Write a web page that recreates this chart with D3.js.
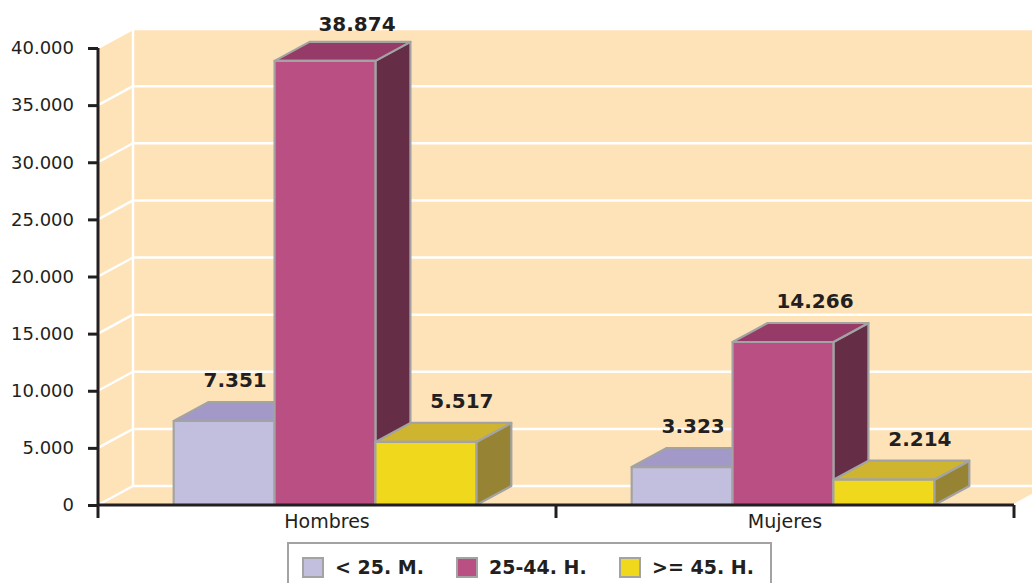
<!DOCTYPE html>
<meta charset="utf-8">
<script src="https://d3js.org/d3.v7.min.js"></script>
<style>
  body { margin: 0; background: #fff; }
  text { font-family: "DejaVu Sans", Verdana, sans-serif; fill: #231f20; }
</style>
<div id="my_dataviz"></div>
<script>

// data
var categories = ["Hombres", "Mujeres"];
var seriesNames = ["< 25. M.", "25-44. H.", ">= 45. H."];
var menores25 = [7351, 3323];
var de25a44 = [38874, 14266];
var mayores45 = [5517, 2214];
var yTicks = [0, 5000, 10000, 15000, 20000, 25000, 30000, 35000, 40000];

var seriesValues = [menores25, de25a44, mayores45];

// colours: front, top, side
var colors = [
  {front: "#c2bedd", top: "#a299c8", side: "#7f78a8"},
  {front: "#ba4f84", top: "#963b68", side: "#662d46"},
  {front: "#f0d91c", top: "#cfb52f", side: "#968434"}
];
var labelDx = [11, 32, 36];

var W = 1032, H = 583;
var depthX = 35, depthY = -19;

var svg = d3.select("#my_dataviz")
  .append("svg")
    .attr("width", W)
    .attr("height", H);

// scales
var x = d3.scaleBand()
  .domain(categories)
  .range([98, 1014])
  .padding(0);

var xs = d3.scaleBand()
  .domain(d3.range(seriesNames.length))
  .range([0, x.bandwidth()])
  .paddingInner(0)
  .paddingOuter(0.77);

var y = d3.scaleLinear()
  .domain([0, 40000])
  .range([505, 48]);

var loc = d3.formatLocale({decimal: ",", thousands: ".", grouping: [3], currency: ["", ""]});
var fmt = loc.format(",d");

var x0 = x.range()[0], x1 = x.range()[1];
var yTop = y(40000), yBot = y(0);
var wallFill = "#fee3b9";

// walls
var walls = svg.append("g");
walls.append("rect")
  .attr("x", x0 + depthX).attr("y", yTop + depthY)
  .attr("width", W - (x0 + depthX)).attr("height", yBot - yTop)
  .attr("fill", wallFill);
walls.append("polygon")
  .attr("points", [[x0, yTop], [x0 + depthX, yTop + depthY], [x0 + depthX, yBot + depthY], [x0, yBot]].join(" "))
  .attr("fill", wallFill);
walls.append("polygon")
  .attr("points", [[x0, yBot], [x0 + depthX, yBot + depthY], [x1 + depthX, yBot + depthY], [x1, yBot]].join(" "))
  .attr("fill", wallFill);

// gridlines
var grid = svg.append("g").attr("stroke", "#fff").attr("stroke-width", 2.5).attr("fill", "none");
grid.selectAll(".gh").data(yTicks).enter().append("line")
  .attr("x1", x0 + depthX).attr("x2", W)
  .attr("y1", function(d) { return y(d) + depthY; })
  .attr("y2", function(d) { return y(d) + depthY; });
grid.selectAll(".gd").data(yTicks).enter().append("line")
  .attr("x1", x0).attr("x2", x0 + depthX)
  .attr("y1", function(d) { return y(d); })
  .attr("y2", function(d) { return y(d) + depthY; });
grid.append("line")
  .attr("x1", x0 + depthX).attr("x2", x0 + depthX)
  .attr("y1", yTop + depthY).attr("y2", yBot + depthY);
grid.append("line")
  .attr("x1", x1).attr("x2", x1 + depthX)
  .attr("y1", yBot).attr("y2", yBot + depthY);

// 3d bars, drawn left to right so later ones overlap
var bars = svg.append("g")
  .attr("stroke", "#a3a3a3")
  .attr("stroke-width", 2.2)
  .attr("stroke-linejoin", "round");

categories.forEach(function(cat, ci) {
  seriesValues.forEach(function(vals, si) {
    var v = vals[ci];
    var bx = x(cat) + xs(si) - 2, bw = xs.bandwidth();
    var by = y(v);
    var g = bars.append("g");
    g.append("polygon")
      .attr("points", [[bx + bw, by], [bx + bw + depthX, by + depthY], [bx + bw + depthX, yBot + depthY], [bx + bw, yBot]].join(" "))
      .attr("fill", colors[si].side);
    g.append("polygon")
      .attr("points", [[bx, by], [bx + depthX, by + depthY], [bx + bw + depthX, by + depthY], [bx + bw, by]].join(" "))
      .attr("fill", colors[si].top);
    g.append("rect")
      .attr("x", bx).attr("y", by)
      .attr("width", bw).attr("height", yBot - by)
      .attr("fill", colors[si].front);
  });
});

// value labels
categories.forEach(function(cat, ci) {
  seriesValues.forEach(function(vals, si) {
    var v = vals[ci];
    svg.append("text")
      .attr("x", x(cat) + xs(si) - 2 + xs.bandwidth() / 2 + labelDx[si])
      .attr("y", Math.max(y(v) + depthY - 15, 31))
      .attr("text-anchor", "middle")
      .style("font-size", "20px")
      .style("font-weight", "bold")
      .text(fmt(v));
  });
});

// Y axis
var yAxis = svg.append("g")
  .attr("transform", "translate(" + x0 + ",0)")
  .call(d3.axisLeft(y).tickValues(yTicks).tickSize(10).tickPadding(14).tickFormat(fmt));
yAxis.selectAll("text").style("font-size", "18px").attr("fill", "#231f20");
yAxis.selectAll("line").attr("stroke", "#231f20").attr("stroke-width", 3);
yAxis.select(".domain").remove();
yAxis.append("line")
  .attr("x1", 0).attr("x2", 0).attr("y1", yTop).attr("y2", yBot)
  .attr("stroke", "#231f20").attr("stroke-width", 3);

// X axis
var xAxis = svg.append("g")
  .attr("transform", "translate(0," + yBot + ")")
  .call(d3.axisBottom(x).tickSize(0).tickPadding(10));
xAxis.select(".domain").remove();
xAxis.selectAll("text").style("font-size", "19px").attr("fill", "#231f20");
xAxis.append("line")
  .attr("x1", x0).attr("x2", x1).attr("y1", 0).attr("y2", 0)
  .attr("stroke", "#231f20").attr("stroke-width", 3);
xAxis.selectAll(".edge")
  .data(categories.map(function(c) { return x(c); }).concat([x1]))
  .enter().append("line")
  .attr("x1", function(d) { return d; }).attr("x2", function(d) { return d; })
  .attr("y1", 0).attr("y2", 13)
  .attr("stroke", "#231f20").attr("stroke-width", 3);

// legend
var legend = svg.append("g");
legend.append("rect")
  .attr("x", 288).attr("y", 543)
  .attr("width", 483).attr("height", 50)
  .attr("fill", "#fff")
  .attr("stroke", "#a3a3a3")
  .attr("stroke-width", 2);
var legendX = [303, 457, 620];
seriesNames.forEach(function(name, si) {
  legend.append("rect")
    .attr("x", legendX[si]).attr("y", 558)
    .attr("width", 20).attr("height", 19)
    .attr("fill", colors[si].front)
    .attr("stroke", "#a3a3a3")
    .attr("stroke-width", 2);
  legend.append("text")
    .attr("x", legendX[si] + 32).attr("y", 574)
    .style("font-size", "19px")
    .style("font-weight", "bold")
    .text(name);
});
</script>
